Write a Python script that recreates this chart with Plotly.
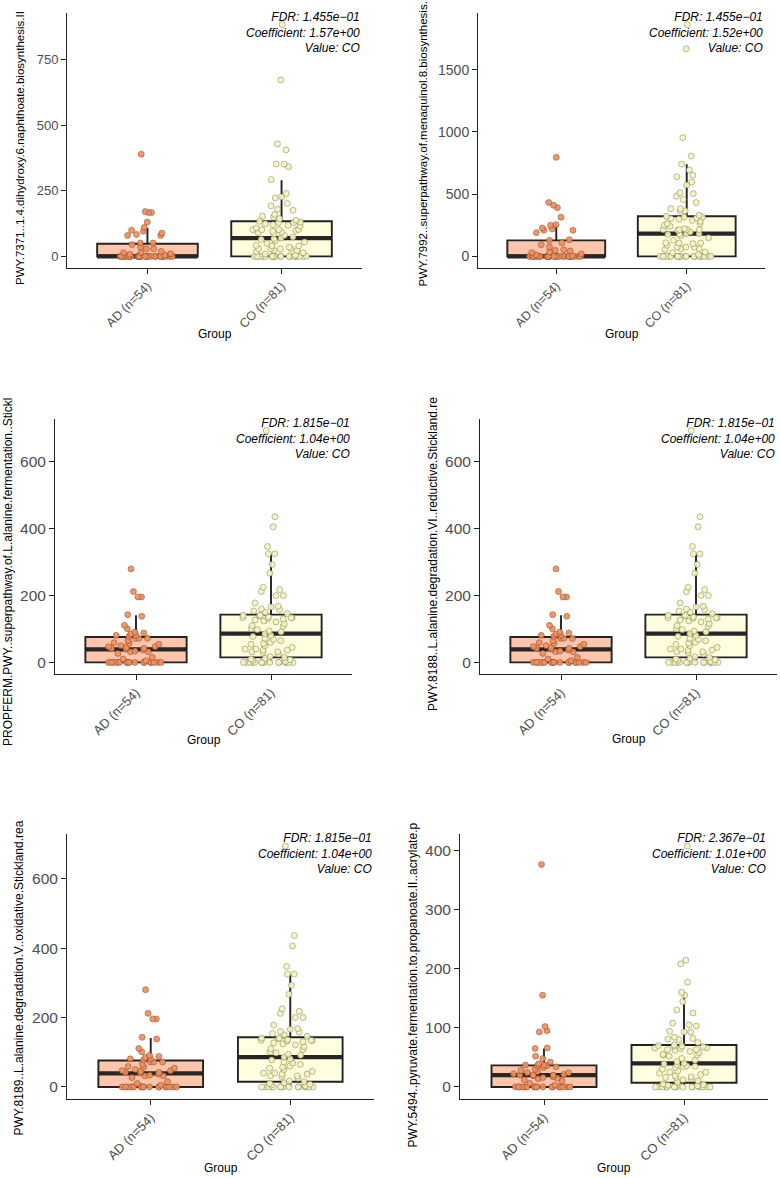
import plotly.graph_objects as go

# ---------------- data ----------------
groups = ["AD (n=54)", "CO (n=81)"]

# Panel 1: PWY.7371
p1_ad = [0, 0, 0, 0, 0, 0, 0, 0, 0, 0, 0, 0, 0, 0, 0, 0, 0, 0, 0, 0,
         0, 0, 0, 0, 0, 0, 0, 0, 0, 0,
         5, 8, 10, 14, 14, 19, 29, 29, 36, 45, 51, 51, 80, 80, 84, 89, 96, 100,
         110, 131, 167, 167, 171, 390]
p1_co = [0, 0, 0, 0, 0, 0, 0, 0, 0, 0, 0, 0, 0, 0, 0, 0, 0, 0, 0, 0, 0,
         5, 9, 14, 18, 23, 23, 29, 29, 29, 29, 35, 40, 40, 42, 50, 55, 60, 65, 68,
         70,
         74, 80, 87, 90, 93, 96, 99, 102, 102, 102, 103, 108, 116, 119, 121, 125, 129, 129, 131,
         134, 138, 144, 150, 154, 160, 176, 180, 193, 202, 223, 227, 240, 293, 342, 352, 352,
         406, 429, 673, 884]

# Panel 2: PWY.7992
p2_ad = [0, 0, 0, 0, 0, 0, 0, 0, 0, 0, 0, 0, 0, 0, 0, 0, 0, 0, 0, 0,
         0, 0, 0, 0, 0, 0, 0, 0, 0,
         5, 12, 20, 30, 35, 43, 48, 54, 75, 94, 110, 129, 134, 191, 210, 210, 220, 228,
         250, 255, 315, 392, 411, 433, 796]
p2_co = [0, 0, 0, 0, 0, 0, 0, 0, 0, 0, 0, 0, 0, 0, 0, 0, 0, 0, 0, 0, 0,
         15, 30, 35, 56, 62, 62, 75, 75, 75, 90, 102, 108, 108, 110, 130, 150, 165, 176, 180,
         183,
         183, 196, 210, 215, 215, 215, 215, 223, 242, 250, 263, 263, 282, 290, 300, 304, 310, 317, 317,
         323,
         330, 366, 366, 384, 384, 433, 457, 484, 505, 511, 573, 597, 640, 653, 694, 742, 806,
         954, 1669, 1863]

# Panels 3-5: L-alanine pathways (identical abundance values)
ala_ad = [0, 0, 0, 0, 0, 0, 0, 0, 0, 0, 0, 0, 0, 0, 0, 0, 0, 0,
          5, 10, 15, 27, 32, 32, 34, 37,
          40, 42, 42, 45, 47, 47, 50, 54, 57, 59, 65, 72, 72, 72,
          78, 81, 81, 85, 88, 91, 101, 111, 138, 143, 196, 196, 212, 280]
ala_co = [0, 0, 0, 0, 0, 0, 0, 0, 0, 0, 0, 0, 0, 0, 0,
          3, 6, 8, 10, 12, 15,
          17, 25, 30, 32, 32, 37, 37, 40, 40, 45, 50, 54, 57, 60, 65, 69, 72, 78, 81,
          86,
          91, 94, 98, 101, 108, 110, 116, 121, 124, 127, 130, 132, 134, 134, 134, 136, 139, 141, 141,
          146,
          150, 154, 158, 160, 166, 168, 178, 200, 200, 212, 218, 225, 267, 293, 325, 325, 347,
          406, 436, 694]

# Panel 6: PWY.5494
p6_ad = [0, 0, 0, 0, 0, 0, 0, 0, 0, 0, 0, 0, 0, 0, 0, 0, 0, 0,
         3, 6, 10, 12, 14, 15, 16, 17, 19, 20,
         20, 20, 21, 22, 24, 24, 26, 28, 30, 33, 34, 36,
         36, 37, 37, 39, 42, 48, 52, 65, 66, 93, 95, 102, 155, 376]
p6_co = [0, 0, 0, 0, 0, 0, 0, 0, 0, 0, 0, 0, 0, 0, 0, 0,
         2, 3, 4, 5, 8,
         10, 12, 14, 16, 16, 17, 19, 21, 23, 25, 25, 27, 30, 33, 34, 35, 36, 38, 39,
         40,
         43, 45, 48, 52, 54, 54, 55, 58, 60, 62, 63, 63, 65, 66, 66, 68, 69, 69, 70,
         71,
         75, 80, 81, 82, 84, 93, 93, 94, 103, 105, 108, 125, 130, 144, 155, 160, 177,
         208, 214, 407]

# Box statistics: [AD, CO]
p1_q1, p1_med, p1_q3, p1_lo, p1_hi = [0, 0], [0, 70], [48, 134], [0, 0], [108, 290]
p2_q1, p2_med, p2_q3, p2_lo, p2_hi = [0, 0], [0, 183], [129, 323], [0, 0], [255, 740]
ala_q1, ala_med, ala_q3, ala_lo, ala_hi = [0, 15], [39, 86], [76, 143], [0, 0], [141, 324]
p6_q1, p6_med, p6_q3, p6_lo, p6_hi = [0, 7], [20, 40], [36.5, 71], [0, 0], [65, 160]

y_titles = [
    "PWY.7371..1.4.dihydroxy.6.naphthoate.biosynthesis.II",
    "PWY.7992..superpathway.of.menaquinol.8.biosynthesis.",
    "PROPFERM.PWY..superpathway.of.L.alanine.fermentation..Stickl",
    "PWY.8188..L.alanine.degradation.VI..reductive.Stickland.re",
    "PWY.8189..L.alanine.degradation.V..oxidative.Stickland.rea",
    "PWY.5494..pyruvate.fermentation.to.propanoate.II..acrylate.p",
]
fdr_labels = ["1.455e\u221201", "1.455e\u221201", "1.815e\u221201",
              "1.815e\u221201", "1.815e\u221201", "2.367e\u221201"]
coef_labels = ["1.57e+00", "1.52e+00", "1.04e+00", "1.04e+00", "1.04e+00", "1.01e+00"]
value_label = "CO"

y_tickvals = [[0, 250, 500, 750], [0, 500, 1000, 1500], [0, 200, 400, 600],
              [0, 200, 400, 600], [0, 200, 400, 600], [0, 100, 200, 300, 400]]

# ---------------- layout / style ----------------
W, H = 780, 1178
panel_px = [(67, 362, 13, 268), (478, 765, 13, 268),
            (55, 352, 419, 674), (480, 777, 419, 674),
            (67, 374, 834, 1099), (460, 768, 834, 1099)]
title_px = [(20, 287), (423, 288), (8, 748), (433, 713), (18, 1138), (412, 1150)]
group_y = [334, 334, 740, 739, 1168, 1168]
ytick_font = [13, 14, 15.5, 15.5, 15.5, 15.5]
xtick_font = [12.5, 12.5, 13, 13, 13, 13]
ytitle_font = [11.5, 11.5, 12, 12, 12, 12]

FONT = "Liberation Sans, Arial, Helvetica, sans-serif"
box_fill = ["#FDC6AC", "#FFFFDF"]
pt_fill = ["#F0905F", "#F6F4BE"]
pt_line = ["rgba(120,55,25,0.7)", "rgba(110,110,70,0.7)"]
BOXW = 0.75
JIT_ZERO = 0.56
JIT_POS = 0.66

panels = [
    (p1_ad, p1_co, p1_q1, p1_med, p1_q3, p1_lo, p1_hi),
    (p2_ad, p2_co, p2_q1, p2_med, p2_q3, p2_lo, p2_hi),
    (ala_ad, ala_co, ala_q1, ala_med, ala_q3, ala_lo, ala_hi),
    (ala_ad[::-1], ala_co[::-1], ala_q1, ala_med, ala_q3, ala_lo, ala_hi),
    (ala_ad[::2] + ala_ad[1::2], ala_co[::2] + ala_co[1::2], ala_q1, ala_med, ala_q3, ala_lo, ala_hi),
    (p6_ad, p6_co, p6_q1, p6_med, p6_q3, p6_lo, p6_hi),
]

fig = go.Figure()
layout = dict(width=W, height=H, margin=dict(l=0, r=0, t=0, b=0),
              paper_bgcolor="white", plot_bgcolor="white",
              boxmode="overlay", showlegend=False,
              font=dict(family=FONT, color="black"))
annotations = []

for i, (ad, co, q1, med, q3, lo, hi) in enumerate(panels):
    n = i + 1
    xa = "x" if n == 1 else f"x{n}"
    ya = "y" if n == 1 else f"y{n}"
    x0, x1, y0, y1 = panel_px[i]
    vals_all = ad + co
    vmax = max(vals_all)
    pad = 0.05 * vmax
    layout["xaxis" if n == 1 else f"xaxis{n}"] = dict(
        domain=[x0 / W, x1 / W], anchor=ya, type="category",
        categoryorder="array", categoryarray=groups, range=[-0.6, 1.6],
        showline=True, linecolor="#222", linewidth=1, mirror=False,
        ticks="outside", ticklen=5, tickwidth=1, tickcolor="#222",
        tickangle=-45, tickfont=dict(size=xtick_font[i], color="#4D4D4D", family=FONT),
        showgrid=False, zeroline=False, fixedrange=True)
    layout["yaxis" if n == 1 else f"yaxis{n}"] = dict(
        domain=[1 - y1 / H, 1 - y0 / H], anchor=xa,
        range=[-pad, vmax + pad], tickvals=y_tickvals[i],
        showline=True, linecolor="#222", linewidth=1, mirror=False,
        ticks="outside", ticklen=5, tickwidth=1, tickcolor="#222",
        tickfont=dict(size=ytick_font[i], color="#4D4D4D", family=FONT),
        showgrid=False, zeroline=False, fixedrange=True)

    for g, vals in enumerate([ad, co]):
        # box from statistics
        fig.add_trace(go.Box(
            x=[groups[g]], q1=[q1[g]], median=[med[g]], q3=[q3[g]],
            lowerfence=[lo[g]], upperfence=[hi[g]],
            width=BOXW, whiskerwidth=0, fillcolor=box_fill[g],
            line=dict(color="#222222", width=1.9), boxpoints=False,
            xaxis=xa, yaxis=ya, hoverinfo="skip"))
        # thick median bar
        fig.add_trace(go.Box(
            x=[groups[g]], q1=[med[g]], median=[med[g]], q3=[med[g]],
            lowerfence=[med[g]], upperfence=[med[g]],
            width=BOXW, whiskerwidth=0, fillcolor="rgba(0,0,0,0)",
            line=dict(color="#262626", width=4.2), boxpoints=False,
            xaxis=xa, yaxis=ya, hoverinfo="skip"))
        # jittered sample points: zero-valued and non-zero samples jittered separately
        zero_vals = [v for v in vals if v == 0]
        pos_vals = [v for v in vals if v != 0]
        for part, jit in ((zero_vals, JIT_ZERO), (pos_vals, JIT_POS)):
            fig.add_trace(go.Box(
                x=[groups[g]] * len(part), y=part,
                boxpoints="all", jitter=jit, pointpos=0, width=BOXW,
                fillcolor="rgba(0,0,0,0)", line=dict(width=0, color="rgba(0,0,0,0)"),
                marker=dict(size=6, color=pt_fill[g], opacity=0.92,
                            line=dict(color=pt_line[g], width=0.7)),
                xaxis=xa, yaxis=ya, hoveron="points"))

    # statistics text
    annotations.append(dict(
        xref=f"{xa} domain", yref=f"{ya} domain", x=1, y=1,
        xanchor="right", yanchor="top", yshift=5, align="right", showarrow=False,
        text=(f"<i>FDR: {fdr_labels[i]}</i><br><i>Coefficient: {coef_labels[i]}</i>"
              f"<br><i>Value: {value_label}</i>"),
        font=dict(size=12, color="black", family=FONT)))
    # y-axis title
    cx, by = title_px[i]
    annotations.append(dict(
        xref="paper", yref="paper", x=cx / W, y=1 - by / H,
        xanchor="center", yanchor="bottom", textangle=-90, showarrow=False,
        text=y_titles[i], font=dict(size=ytitle_font[i], color="black", family=FONT)))
    # x-axis title
    annotations.append(dict(
        xref=f"{xa} domain", yref="paper", x=0.5, y=1 - group_y[i] / H,
        xanchor="center", yanchor="middle", showarrow=False,
        text="Group", font=dict(size=12, color="black", family=FONT)))

layout["annotations"] = annotations
fig.update_layout(**layout)
fig.write_html("out.html")
